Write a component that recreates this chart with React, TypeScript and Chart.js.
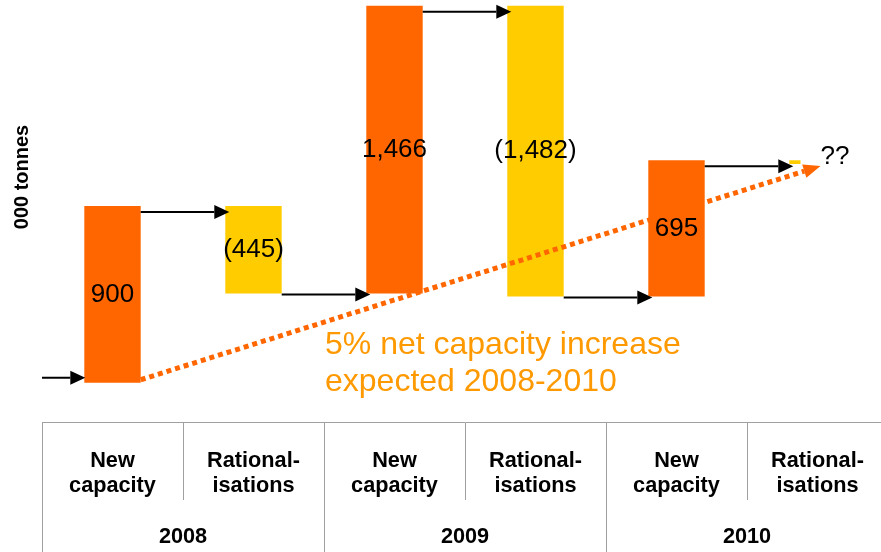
import React, { useEffect, useRef } from 'react';
import { Chart, registerables } from 'chart.js';

Chart.register(...registerables);

// ---- data ----
const categories: string[][] = [
  ['New', 'capacity'],
  ['Rational-', 'isations'],
  ['New', 'capacity'],
  ['Rational-', 'isations'],
  ['New', 'capacity'],
  ['Rational-', 'isations'],
];
const years = ['2008', '2009', '2010'];
const changes = [900, -445, 1466, -1482, 695, -20];
const valueLabels = ['900', '(445)', '1,466', '(1,482)', '695', '??'];
const axisTitle = '000 tonnes';
const noteLines = ['5% net capacity increase', 'expected 2008-2010'];

// ---- styles ----
const ORANGE = '#FF6600';
const YELLOW = '#FFCC00';
const NOTE = '#FF9900';
const GRID = '#A0A0A0';
const FONT = '"Liberation Sans", Arial, Helvetica, sans-serif';

function drawArrow(
  ctx: CanvasRenderingContext2D,
  x1: number, y1: number, x2: number, y2: number,
  color: string, lw: number, headLen: number, headHalf: number, dash: number[]
) {
  const ang = Math.atan2(y2 - y1, x2 - x1);
  const bx = x2 - headLen * Math.cos(ang);
  const by = y2 - headLen * Math.sin(ang);
  ctx.save();
  ctx.strokeStyle = color;
  ctx.lineWidth = lw;
  ctx.lineCap = 'butt';
  ctx.setLineDash(dash);
  ctx.beginPath();
  ctx.moveTo(x1, y1);
  ctx.lineTo(bx, by);
  ctx.stroke();
  ctx.setLineDash([]);
  ctx.fillStyle = color;
  ctx.beginPath();
  ctx.moveTo(x2, y2);
  ctx.lineTo(bx + headHalf * Math.sin(ang), by - headHalf * Math.cos(ang));
  ctx.lineTo(bx - headHalf * Math.sin(ang), by + headHalf * Math.cos(ang));
  ctx.closePath();
  ctx.fill();
  ctx.restore();
}

export default function App() {
  const ref = useRef<HTMLCanvasElement>(null);

  useEffect(() => {
    const canvas = ref.current;
    if (!canvas) return;

    let level = 0;
    const floating = changes.map((c) => {
      const start = level;
      level += c;
      return [start, level];
    });
    const finalLevel = level;
    const colors = changes.map((c) => (c >= 0 ? ORANGE : YELLOW));

    const decor = {
      id: 'waterfallDecor',
      afterDatasetsDraw(chart: any) {
        const ctx: CanvasRenderingContext2D = chart.ctx;
        const ys = chart.scales.y;
        const area = chart.chartArea;
        const bars = chart.getDatasetMeta(0).data.map((b: any) =>
          b.getProps(['x', 'y', 'base', 'width'], true)
        );
        const n = bars.length;
        const lastBar = bars[n - 1];
        const lastTop = ys.getPixelForValue(floating[n - 1][0]);

        // white text box of the "??" label
        ctx.save();
        ctx.fillStyle = '#ffffff';
        ctx.fillRect(lastBar.x - 17, lastTop - 20, area.right - lastBar.x + 17, 36);
        ctx.restore();

        // dotted trend arrow
        drawArrow(
          ctx,
          bars[0].x + bars[0].width / 2, ys.getPixelForValue(0) - 3,
          lastBar.x + 3, ys.getPixelForValue(finalLevel) + 2,
          ORANGE, 5, 17, 7, [5, 4]
        );

        // black connector arrows
        drawArrow(ctx, area.left, ys.getPixelForValue(0) - 5, bars[0].x - bars[0].width / 2 + 1, ys.getPixelForValue(0) - 5, '#000', 2, 15, 7, []);
        for (let i = 0; i < n - 1; i++) {
          const lvl = floating[i][1];
          const off = changes[i] > 0 ? 6 : 1;
          const yy = ys.getPixelForValue(lvl) + off;
          drawArrow(
            ctx,
            bars[i].x + bars[i].width / 2, yy,
            bars[i + 1].x - bars[i + 1].width / 2 + 4, yy,
            '#000', 2, 15, 7, []
          );
        }

        // value labels
        ctx.save();
        ctx.fillStyle = '#000';
        ctx.font = `26px ${FONT}`;
        ctx.textBaseline = 'middle';
        for (let i = 0; i < n; i++) {
          if (i === n - 1) {
            ctx.textAlign = 'left';
            ctx.fillText(valueLabels[i], lastBar.x + 3, lastTop - 3);
          } else {
            ctx.textAlign = 'center';
            const mid = (ys.getPixelForValue(floating[i][0]) + ys.getPixelForValue(floating[i][1])) / 2;
            ctx.fillText(valueLabels[i], bars[i].x, mid);
          }
        }
        ctx.restore();

        // note text
        ctx.save();
        ctx.fillStyle = NOTE;
        ctx.font = `32px ${FONT}`;
        ctx.textAlign = 'left';
        ctx.textBaseline = 'alphabetic';
        ctx.fillText(noteLines[0], 325, 354);
        ctx.fillText(noteLines[1], 325, 391);
        ctx.restore();

        // y axis title
        ctx.save();
        ctx.translate(22, 177);
        ctx.rotate(-Math.PI / 2);
        ctx.fillStyle = '#000';
        ctx.font = `bold 20px ${FONT}`;
        ctx.textAlign = 'center';
        ctx.textBaseline = 'middle';
        ctx.fillText(axisTitle, 0, 0);
        ctx.restore();
      },
    };

    const tickFont = { family: FONT, size: 21.7, weight: 'bold' as const, lineHeight: 25 / 21.7 };

    const chart = new Chart(canvas, {
      type: 'bar',
      data: {
        labels: categories as any,
        datasets: [
          {
            data: floating as any,
            backgroundColor: colors,
            borderWidth: 0,
            categoryPercentage: 1,
            barPercentage: 0.4,
          },
        ],
      },
      options: {
        responsive: false,
        animation: false,
        events: [],
        layout: { padding: { left: 42, right: 0, top: 0, bottom: 0 } },
        plugins: { legend: { display: false }, tooltip: { enabled: false } },
        scales: {
          y: { display: false, min: -200, max: 1950 },
          x: {
            type: 'category',
            position: 'bottom',
            weight: 0,
            offset: true,
            grid: { offset: true, drawOnChartArea: false, drawTicks: true, tickLength: 78, color: GRID, lineWidth: 1 },
            border: { display: true, color: GRID, width: 1 },
            ticks: { font: tickFont, color: '#000', padding: -51.5, maxRotation: 0, minRotation: 0, autoSkip: false },
            afterFit: (s: any) => { s.height = 78; },
          },
          x2: {
            type: 'category',
            position: 'bottom',
            weight: 1,
            labels: years,
            offset: true,
            grid: { offset: true, drawOnChartArea: false, drawTicks: true, tickLength: 52, color: GRID, lineWidth: 1 },
            border: { display: false },
            ticks: { font: tickFont, color: '#000', padding: -27.5, maxRotation: 0, minRotation: 0, autoSkip: false },
            afterFit: (s: any) => { s.height = 52; },
          },
        } as any,
      },
      plugins: [decor],
    });

    return () => chart.destroy();
  }, []);

  return (
    <div style={{ position: 'fixed', left: 0, top: 0, width: 881, height: 552, overflow: 'hidden', background: '#ffffff' }}>
      <canvas ref={ref} width={888} height={552} style={{ display: 'block' }} />
    </div>
  );
}
